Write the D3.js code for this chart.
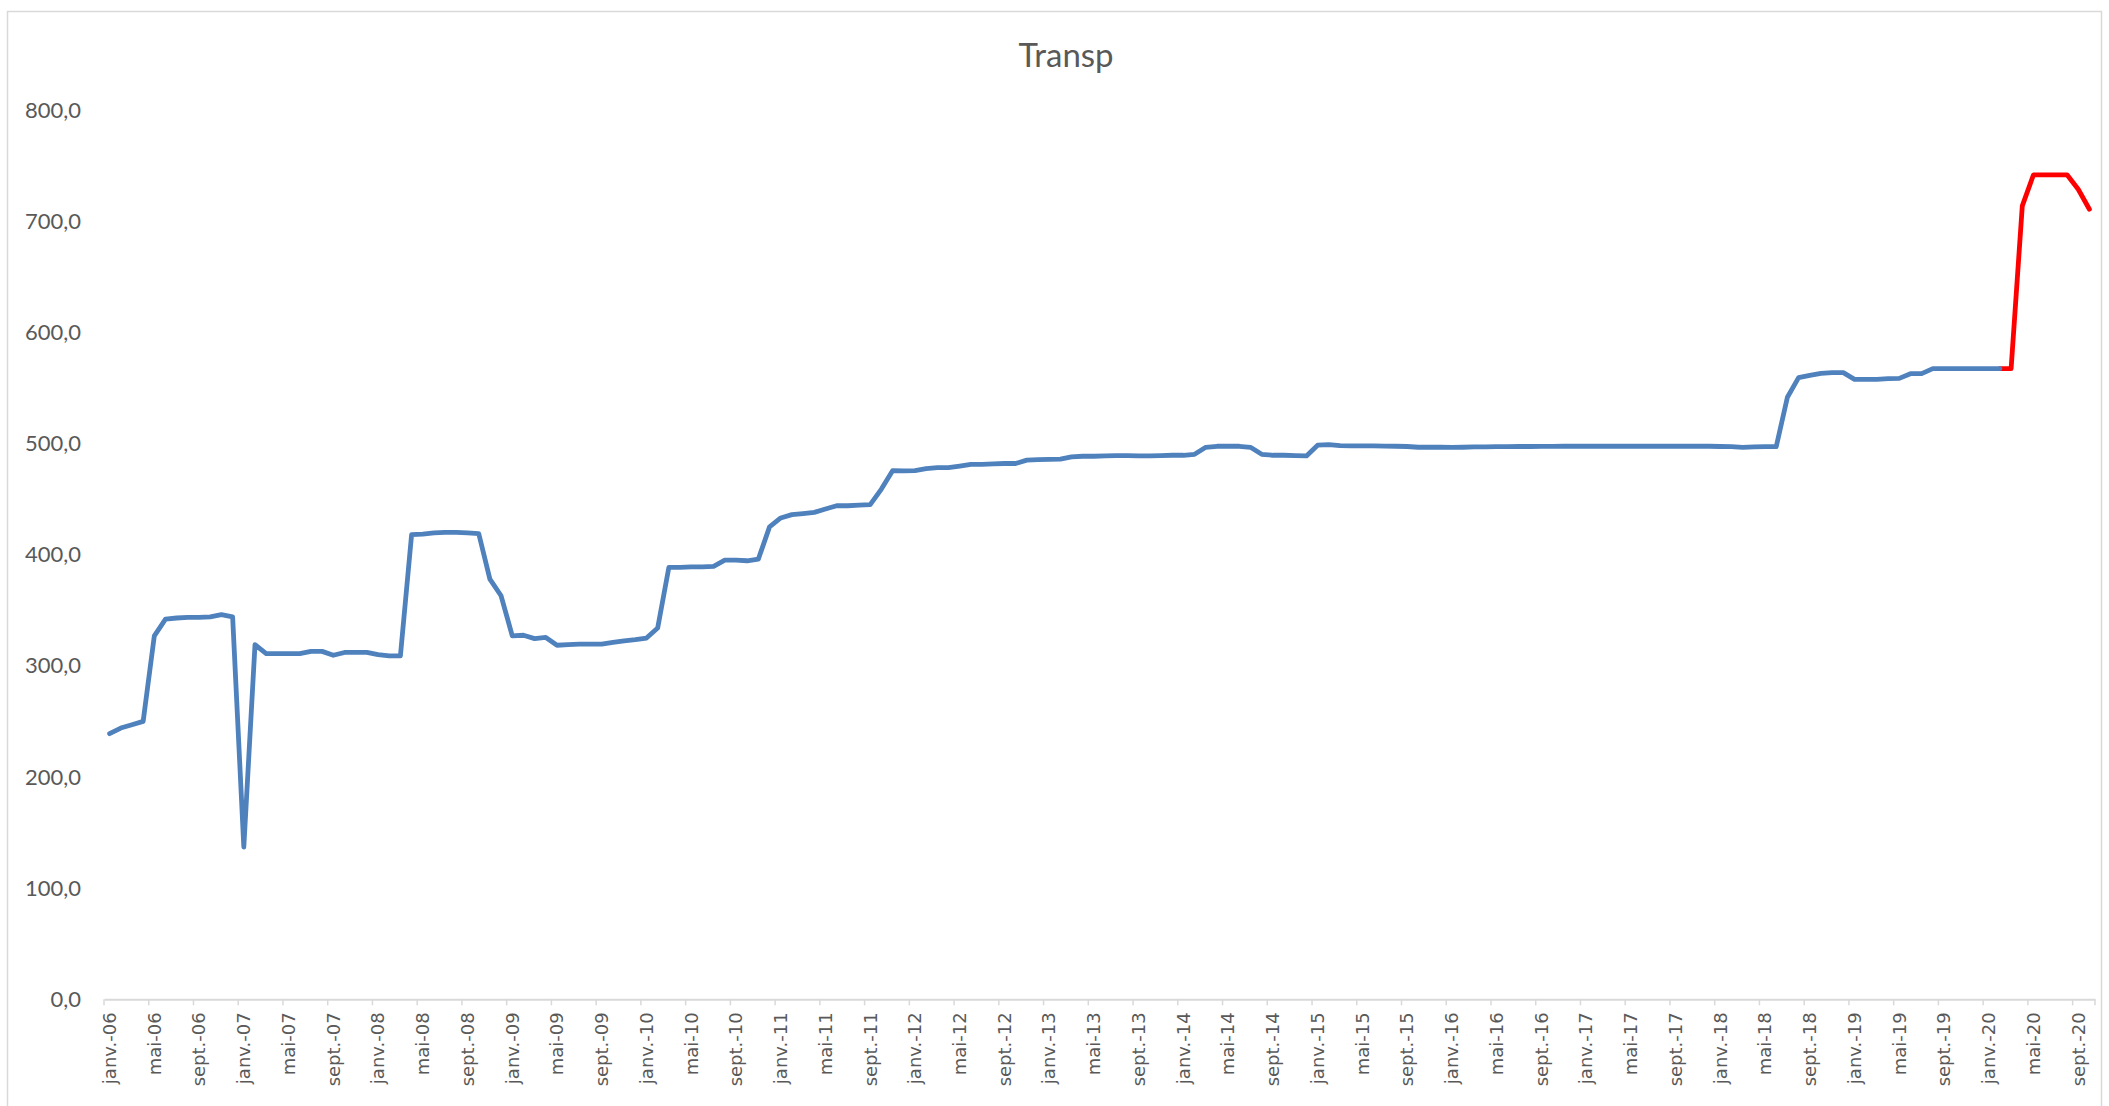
<!DOCTYPE html>
<html>
<head>
<meta charset="utf-8">
<script src="https://cdn.jsdelivr.net/npm/d3@7"></script>
<style>
  body { margin: 0; background: #ffffff; }
  svg { display: block; }
</style>
</head>
<body>
<svg id="chart" width="2109" height="1106"></svg>
<script>
// Month labels of the category axis (French short forms)
const monthNames = ["janv.", "févr.", "mars", "avr.", "mai", "juin",
                    "juil.", "août", "sept.", "oct.", "nov.", "déc."];
const startYear = 2006;
const monthCount = 178;          // janv.-06 .. oct.-20

// Transp index, monthly, janv.-06 .. févr.-20
const transp = [
  239, 244, 247, 250, 327, 342, 343, 343.5, 343.5, 344, 346, 344,            // 2006
  137, 319, 311, 311, 311, 311, 313, 313, 309.5, 312, 312, 312,              // 2007
  310, 309, 309, 418, 418.5, 419.5, 420, 420, 419.5, 419, 378, 363,          // 2008
  327, 327.5, 324.5, 325.5, 318.5, 319, 319.5, 319.5, 319.5, 321, 322.5, 323.5, // 2009
  325, 334, 388.5, 388.5, 389, 389, 389.5, 395, 395, 394.5, 396, 425,        // 2010
  433, 436, 437, 438, 441, 444, 444, 444.5, 445, 459, 475.5, 475.3,          // 2011
  475.5, 477.3, 478.2, 478.2, 479.7, 481.3, 481.3, 481.6, 482, 482, 485, 485.4, // 2012
  485.7, 486, 488, 488.5, 488.5, 488.8, 489, 489, 488.8, 488.8, 489, 489.4,  // 2013
  489.4, 490.3, 496.6, 497.5, 497.5, 497.5, 496.6, 490.3, 489.4, 489.4, 489, 488.8, // 2014
  498.5, 499, 498, 497.8, 497.8, 497.8, 497.6, 497.5, 497.3, 496.6, 496.6, 496.6, // 2015
  496.5, 496.6, 496.9, 497, 497.2, 497.2, 497.3, 497.3, 497.4, 497.4, 497.5, 497.5, // 2016
  497.5, 497.5, 497.5, 497.5, 497.5, 497.5, 497.5, 497.5, 497.5, 497.5, 497.5, 497.5, // 2017
  497.3, 497.1, 496.5, 497, 497.2, 497.1, 541.6, 559.2, 561.3, 563.1, 563.7, 563.7, // 2018
  557.7, 557.7, 557.7, 558.3, 558.6, 562.8, 562.8, 567.3, 567.3, 567.3, 567.3, 567.3, // 2019
  567.3, 567.3                                                               // 2020
];

// Latest months, févr.-20 .. oct.-20, drawn in red
const transpRecentStart = 169;   // index of févr.-20
const transpRecent = [567.3, 567.3, 713.8, 741.7, 741.7, 741.7, 741.7, 728.7, 710.7];

const yTicks = [0, 100, 200, 300, 400, 500, 600, 700, 800];
const labelEvery = 4;

const categories = d3.range(monthCount).map(i =>
  monthNames[i % 12] + "-" + String((startYear + Math.floor(i / 12)) % 100).padStart(2, "0"));

const svg = d3.select("#chart");
const textColor = "#595959";
const axisColor = "#d9d9d9";

// chart frame
svg.append("rect")
  .attr("x", 7.5).attr("y", 11.5)
  .attr("width", 2094).attr("height", 1100)
  .attr("fill", "#ffffff")
  .attr("stroke", axisColor).attr("stroke-width", 1.5);

const x = d3.scaleBand().domain(categories).range([104, 2095]).padding(0);
const y = d3.scaleLinear().domain([0, 800]).range([999.3, 110]);
const cx = c => x(c) + x.bandwidth() / 2;

// title
svg.append("text")
  .attr("x", 1066).attr("y", 67)
  .attr("text-anchor", "middle")
  .attr("font-family", "Lato, 'Liberation Sans', sans-serif")
  .attr("font-size", 33)
  .attr("fill", textColor)
  .text("Transp");

// value axis (labels only)
const yAxis = svg.append("g")
  .attr("transform", "translate(81,0)")
  .call(d3.axisLeft(y).tickValues(yTicks).tickSize(0).tickPadding(0)
    .tickFormat(d => d3.format(".1f")(d).replace(".", ",")));
yAxis.select(".domain").remove();
yAxis.selectAll("text")
  .attr("font-family", "Lato, 'Liberation Sans', sans-serif")
  .attr("font-size", 22)
  .attr("fill", textColor);

// category axis
const labelled = categories.filter((c, i) => i % labelEvery === 0);
const xAxis = svg.append("g")
  .attr("transform", `translate(0,${y(0)})`)
  .call(d3.axisBottom(x).tickValues(labelled).tickSize(0).tickPadding(0));
xAxis.select(".domain")
  .attr("stroke", axisColor).attr("stroke-width", 2);
xAxis.selectAll(".tick text")
  .attr("transform", "rotate(-90)")
  .attr("text-anchor", "end")
  .attr("x", -13).attr("y", 0).attr("dy", "0.35em")
  .attr("font-family", "'DejaVu Sans', sans-serif")
  .attr("font-size", 18)
  .attr("fill", textColor);

// tick marks sit on category boundaries
const tickPositions = labelled.map(c => x(c)).concat([x.range()[1]]);
xAxis.selectAll(".bound")
  .data(tickPositions)
  .join("line")
  .attr("class", "bound")
  .attr("x1", d => d).attr("x2", d => d)
  .attr("y1", 0).attr("y2", 6)
  .attr("stroke", axisColor).attr("stroke-width", 1.5);

const line = d3.line()
  .x(d => cx(d.cat))
  .y(d => y(d.v));

const recentData = transpRecent.map((v, k) => ({ cat: categories[transpRecentStart + k], v }));
const mainData = transp.map((v, i) => ({ cat: categories[i], v }));

svg.append("path")
  .datum(recentData)
  .attr("d", line)
  .attr("fill", "none")
  .attr("stroke", "#ff0000")
  .attr("stroke-width", 4.8)
  .attr("stroke-linejoin", "round")
  .attr("stroke-linecap", "round");

svg.append("path")
  .datum(mainData)
  .attr("d", line)
  .attr("fill", "none")
  .attr("stroke", "#4f81bd")
  .attr("stroke-width", 4.8)
  .attr("stroke-linejoin", "round")
  .attr("stroke-linecap", "round");
</script>
</body>
</html>
